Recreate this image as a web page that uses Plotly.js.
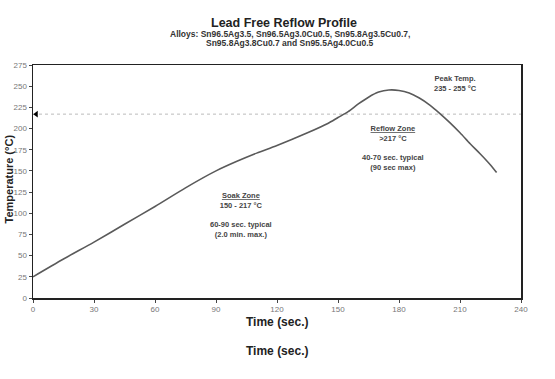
<!DOCTYPE html>
<html>
<head>
<meta charset="utf-8">
<script src="https://cdn.plot.ly/plotly-3.0.1.min.js"></script>
<style>html,body{margin:0;padding:0;background:#fff;}#chart{width:555px;height:379px;}</style>
</head>
<body>
<div id="chart"></div>
<script>
// Reflow profile (time in seconds, temperature in °C)
const timeSec = [0, 15, 30, 45, 60, 75, 90, 100, 110, 120, 135, 145, 150, 155, 160, 165, 170, 175, 180, 185, 190, 195, 200, 205, 210, 215, 220, 225, 228];
const tempC   = [25, 46, 66, 87, 108, 130, 150, 161, 171, 180, 195, 206, 213, 220, 229, 237, 243, 245.5, 245, 242, 236, 228, 218, 207, 195, 182, 170, 157, 148];
const liquidus = 217;
const xTicks = [0, 30, 60, 90, 120, 150, 180, 210, 240];
const yTicks = [0, 25, 50, 75, 100, 125, 150, 175, 200, 225, 250, 275];

const font = "Liberation Sans, Arial, sans-serif";
const txt = "#444";

const traces = [
  {
    x: [xTicks[0], xTicks[xTicks.length - 1]], y: [liquidus, liquidus],
    mode: "lines", line: {color: "#bbbbbb", width: 1, dash: "dot"},
    hoverinfo: "skip", showlegend: false
  },
  {
    x: timeSec, y: tempC, mode: "lines",
    line: {color: "#5a5a5a", width: 1.6, shape: "spline", smoothing: 0.8},
    showlegend: false
  },
  {
    x: [1.6], y: [liquidus], mode: "markers",
    marker: {symbol: "triangle-left", size: 6, color: "#000"},
    showlegend: false, hoverinfo: "skip"
  }
];

const ann = (x, y, text, size) => ({
  x: x, y: y, xref: "x", yref: "y", text: text, showarrow: false,
  xanchor: "center", yanchor: "middle",
  font: {family: font, size: size || 7.5, color: txt}, align: "center"
});

const pann = (x, y, xs, ys, text, size, extra) => Object.assign({
  xref: "paper", yref: "paper", x: x, y: y, xshift: xs, yshift: ys,
  xanchor: "center", yanchor: "middle", text: text, showarrow: false,
  font: {family: font, size: size, color: "#222"}
}, extra || {});

const layout = {
  width: 555, height: 379,
  margin: {l: 33, r: 34, t: 65, b: 81},
  paper_bgcolor: "#fff", plot_bgcolor: "#fff",
  font: {family: font},
  xaxis: {
    range: [0, 240], tickvals: xTicks, ticktext: xTicks.map(String),
    showgrid: false, zeroline: false,
    showline: true, mirror: true, linecolor: "#222", linewidth: 1.5,
    ticks: "outside", ticklen: 3, tickcolor: "#444",
    tickfont: {family: font, size: 8, color: "#777"}
  },
  yaxis: {
    range: [0, 275], tickvals: yTicks, ticktext: yTicks.map(String),
    showgrid: false, zeroline: false,
    showline: true, mirror: true, linecolor: "#222", linewidth: 1.5,
    ticks: "outside", ticklen: 3, tickcolor: "#444",
    tickfont: {family: font, size: 8, color: "#777"}
  },
  annotations: [
    pann(0.5, 1, 7, 42, "<b>Lead Free Reflow Profile</b>", 12.5),
    pann(0.5, 1, 13, 31, "<b>Alloys: Sn96.5Ag3.5, Sn96.5Ag3.0Cu0.5, Sn95.8Ag3.5Cu0.7,</b>", 8.5, {font: {family: font, size: 8.5, color: "#333"}}),
    pann(0.5, 1, 13, 22, "<b>Sn95.8Ag3.8Cu0.7 and Sn95.5Ag4.0Cu0.5</b>", 8.5, {font: {family: font, size: 8.5, color: "#333"}}),
    pann(0.5, 0, 0, -24, "<b>Time (sec.)</b>", 12),
    pann(0.5, 0, 0, -53, "<b>Time (sec.)</b>", 12),
    pann(0, 0.5, -25, 2, "<b>Temperature (°C)</b>", 11, {textangle: -90}),
    ann(102.5, 98, "<b><u>Soak Zone</u><br>150 - 217 °C<br><br>60-90 sec. typical<br>(2.0 min. max.)</b>"),
    ann(177, 177, "<b><u>Reflow Zone</u><br>>217 °C<br><br>40-70 sec. typical<br>(90 sec max)</b>"),
    ann(208, 253.5, "<b>Peak Temp.<br>235 - 255 °C</b>")
  ]
};

Plotly.newPlot("chart", traces, layout, {displayModeBar: false, staticPlot: true});
</script>
</body>
</html>
